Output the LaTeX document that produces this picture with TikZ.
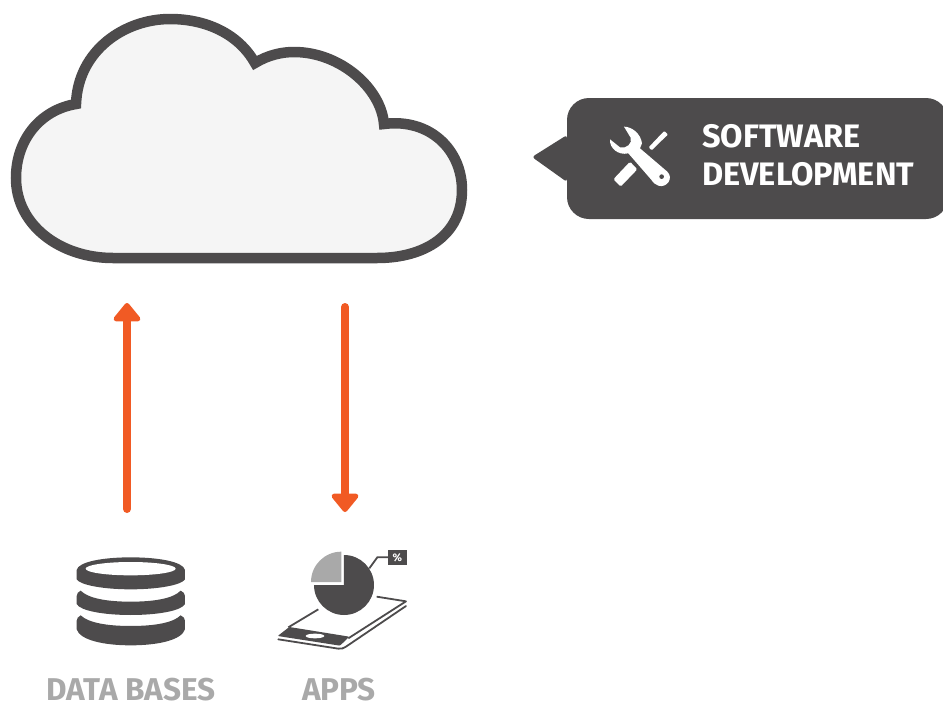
\documentclass[tikz,border=0pt]{standalone}
\usepackage{fontspec}
\setmainfont{Fira Sans}
\usetikzlibrary{arrows.meta}
\definecolor{dark}{HTML}{4D4B4C}
\definecolor{orange1}{HTML}{F15A24}
\definecolor{graytext}{HTML}{A9A9A9}
\definecolor{cloudfill}{HTML}{F5F5F5}
\tikzset{
 flow/.style={draw=orange1,line width=8pt,line cap=round,-{Triangle[length=20pt,width=31pt,round]}},
 cap label/.style={font=\fontsize{31.5}{34}\selectfont\bfseries,text=graytext,inner sep=0pt,anchor=base},
 bubble text/.style={font=\fontsize{32.5}{36}\selectfont\bfseries,text=white,inner sep=0pt,anchor=base west},
 zoomA/.style={shift={(520,90)},x=0.3333pt,y=-0.3333pt},
 zoomB/.style={shift={(40,540)},x=0.3333pt,y=-0.3333pt},
 zoomC/.style={shift={(260,540)},x=0.3333pt,y=-0.3333pt},
 thin part/.style={draw=dark,line width=1.8pt},
}
\begin{document}
\begin{tikzpicture}[x=1pt,y=-1pt]
\useasboundingbox (0,0) rectangle (943,702);
% cloud
\draw[dark,fill=cloudfill,line width=10.5pt,miter limit=10]
 (76,104) .. controls (78,50) and (125,19) .. (170,19)
 .. controls (205,19) and (238,33) .. (255,63)
 .. controls (268,55) and (282,52) .. (294,52)
 .. controls (340,52) and (381,88) .. (384,124)
 .. controls (430,118) and (462,150) .. (462,190)
 .. controls (462,235) and (425,258) .. (377,258)
 -- (113,258)
 .. controls (60,258) and (16,225) .. (16,178)
 .. controls (16,140) and (40,110) .. (76,104) -- cycle;
% bubble
\fill[dark,rounded corners=3pt] (532,157) -- (567,135) -- (567,182) -- cycle;
\fill[dark,rounded corners=22pt] (567,98) rectangle (948,219);
\node[bubble text] (sw) at (702,147) {SOFTWARE};
\node[bubble text] (dev) at (702,185) {DEVELOPMENT};
% tools icon
\begin{scope}[zoomA]
 \fill[white] (312,110) .. controls (335,110) and (362,130) .. (366,160)
  -- (360,175) -- (442,245)
  .. controls (462,265) and (440,295) .. (415,287)
  .. controls (405,285) and (400,277) .. (392,267)
  -- (325,190) .. controls (295,197) and (268,175) .. (270,148)
  -- (300,172) .. controls (320,177) and (338,160) .. (332,143) -- cycle;
 \fill[dark] (425,260) circle (7);
 \fill[white,rounded corners=1pt] (386,172) -- (424,132) -- (433,123) -- (444,134) -- (434,143) -- (395,181) -- cycle;
 \fill[white,rounded corners=1.5pt] (280,268) -- (330,215) -- (352,238) -- (302,290) -- cycle;
\end{scope}
% arrows
\coordinate (dbtop) at (127,509);
\coordinate (cloudleft) at (127,303);
\coordinate (cloudright) at (345,307);
\coordinate (appstop) at (345,512);
\draw[flow] (dbtop) -- (cloudleft);
\draw[flow] (cloudright) -- (appstop);
% database icon
\begin{scope}[zoomB]
 \fill[dark] (110,90) .. controls (115,65) and (190,52) .. (272,52)
  .. controls (355,52) and (430,65) .. (435,90) -- (435,118)
  .. controls (425,135) and (355,148) .. (272,148)
  .. controls (190,148) and (120,135) .. (110,118) -- cycle;
 \fill[white] (272,86) ellipse (135 and 20);
 \fill[dark] (122,152) .. controls (145,175) and (200,185) .. (272,185)
  .. controls (345,185) and (400,175) .. (422,152)
  .. controls (430,156) and (435,160) .. (435,168) -- (435,192)
  .. controls (425,212) and (355,225) .. (272,225)
  .. controls (190,225) and (120,212) .. (110,192) -- (110,168)
  .. controls (110,160) and (115,156) .. (122,152) -- cycle;
 \fill[dark] (122,226) .. controls (145,248) and (200,258) .. (272,258)
  .. controls (345,258) and (400,248) .. (422,226)
  .. controls (430,230) and (435,235) .. (435,242) -- (435,268)
  .. controls (425,300) and (355,316) .. (272,316)
  .. controls (190,316) and (120,300) .. (110,268) -- (110,242)
  .. controls (110,235) and (115,230) .. (122,226) -- cycle;
\end{scope}
\node[cap label] (dblabel) at (131,700) {DATA BASES};
% apps icon
\begin{scope}[zoomC]
 \fill[dark] (252,45) arc[start angle=-90,end angle=180,radius=90] -- (252,135) -- cycle;
 \fill[graytext] (153,126) arc[start angle=180,end angle=270,radius=91] -- (244,126) -- cycle;
 \draw[thin part] (328,85) -- (352,52) -- (385,52);
 \fill[dark] (383,30) rectangle (441,75);
 \node[inner sep=0pt,text=white,font=\fontsize{11}{11}\selectfont\bfseries] (pct) at (412,53) {\%};
 \draw[thin part] (175,208) -- (85,262);
 \draw[thin part,line join=round] (350,170) -- (438,184) -- (265,295);
 \fill[dark,rounded corners=1pt] (88,261) -- (268,290) -- (240,317) -- (53,288) -- cycle;
 \fill[white] (165,288) ellipse (28 and 7);
 \draw[thin part,line cap=round] (55,298) -- (235,326) .. controls (245,327) and (250,325) .. (258,320) -- (438,198);
\end{scope}
\node[cap label] (appslabel) at (339,700) {APPS};
\end{tikzpicture}
\end{document}
